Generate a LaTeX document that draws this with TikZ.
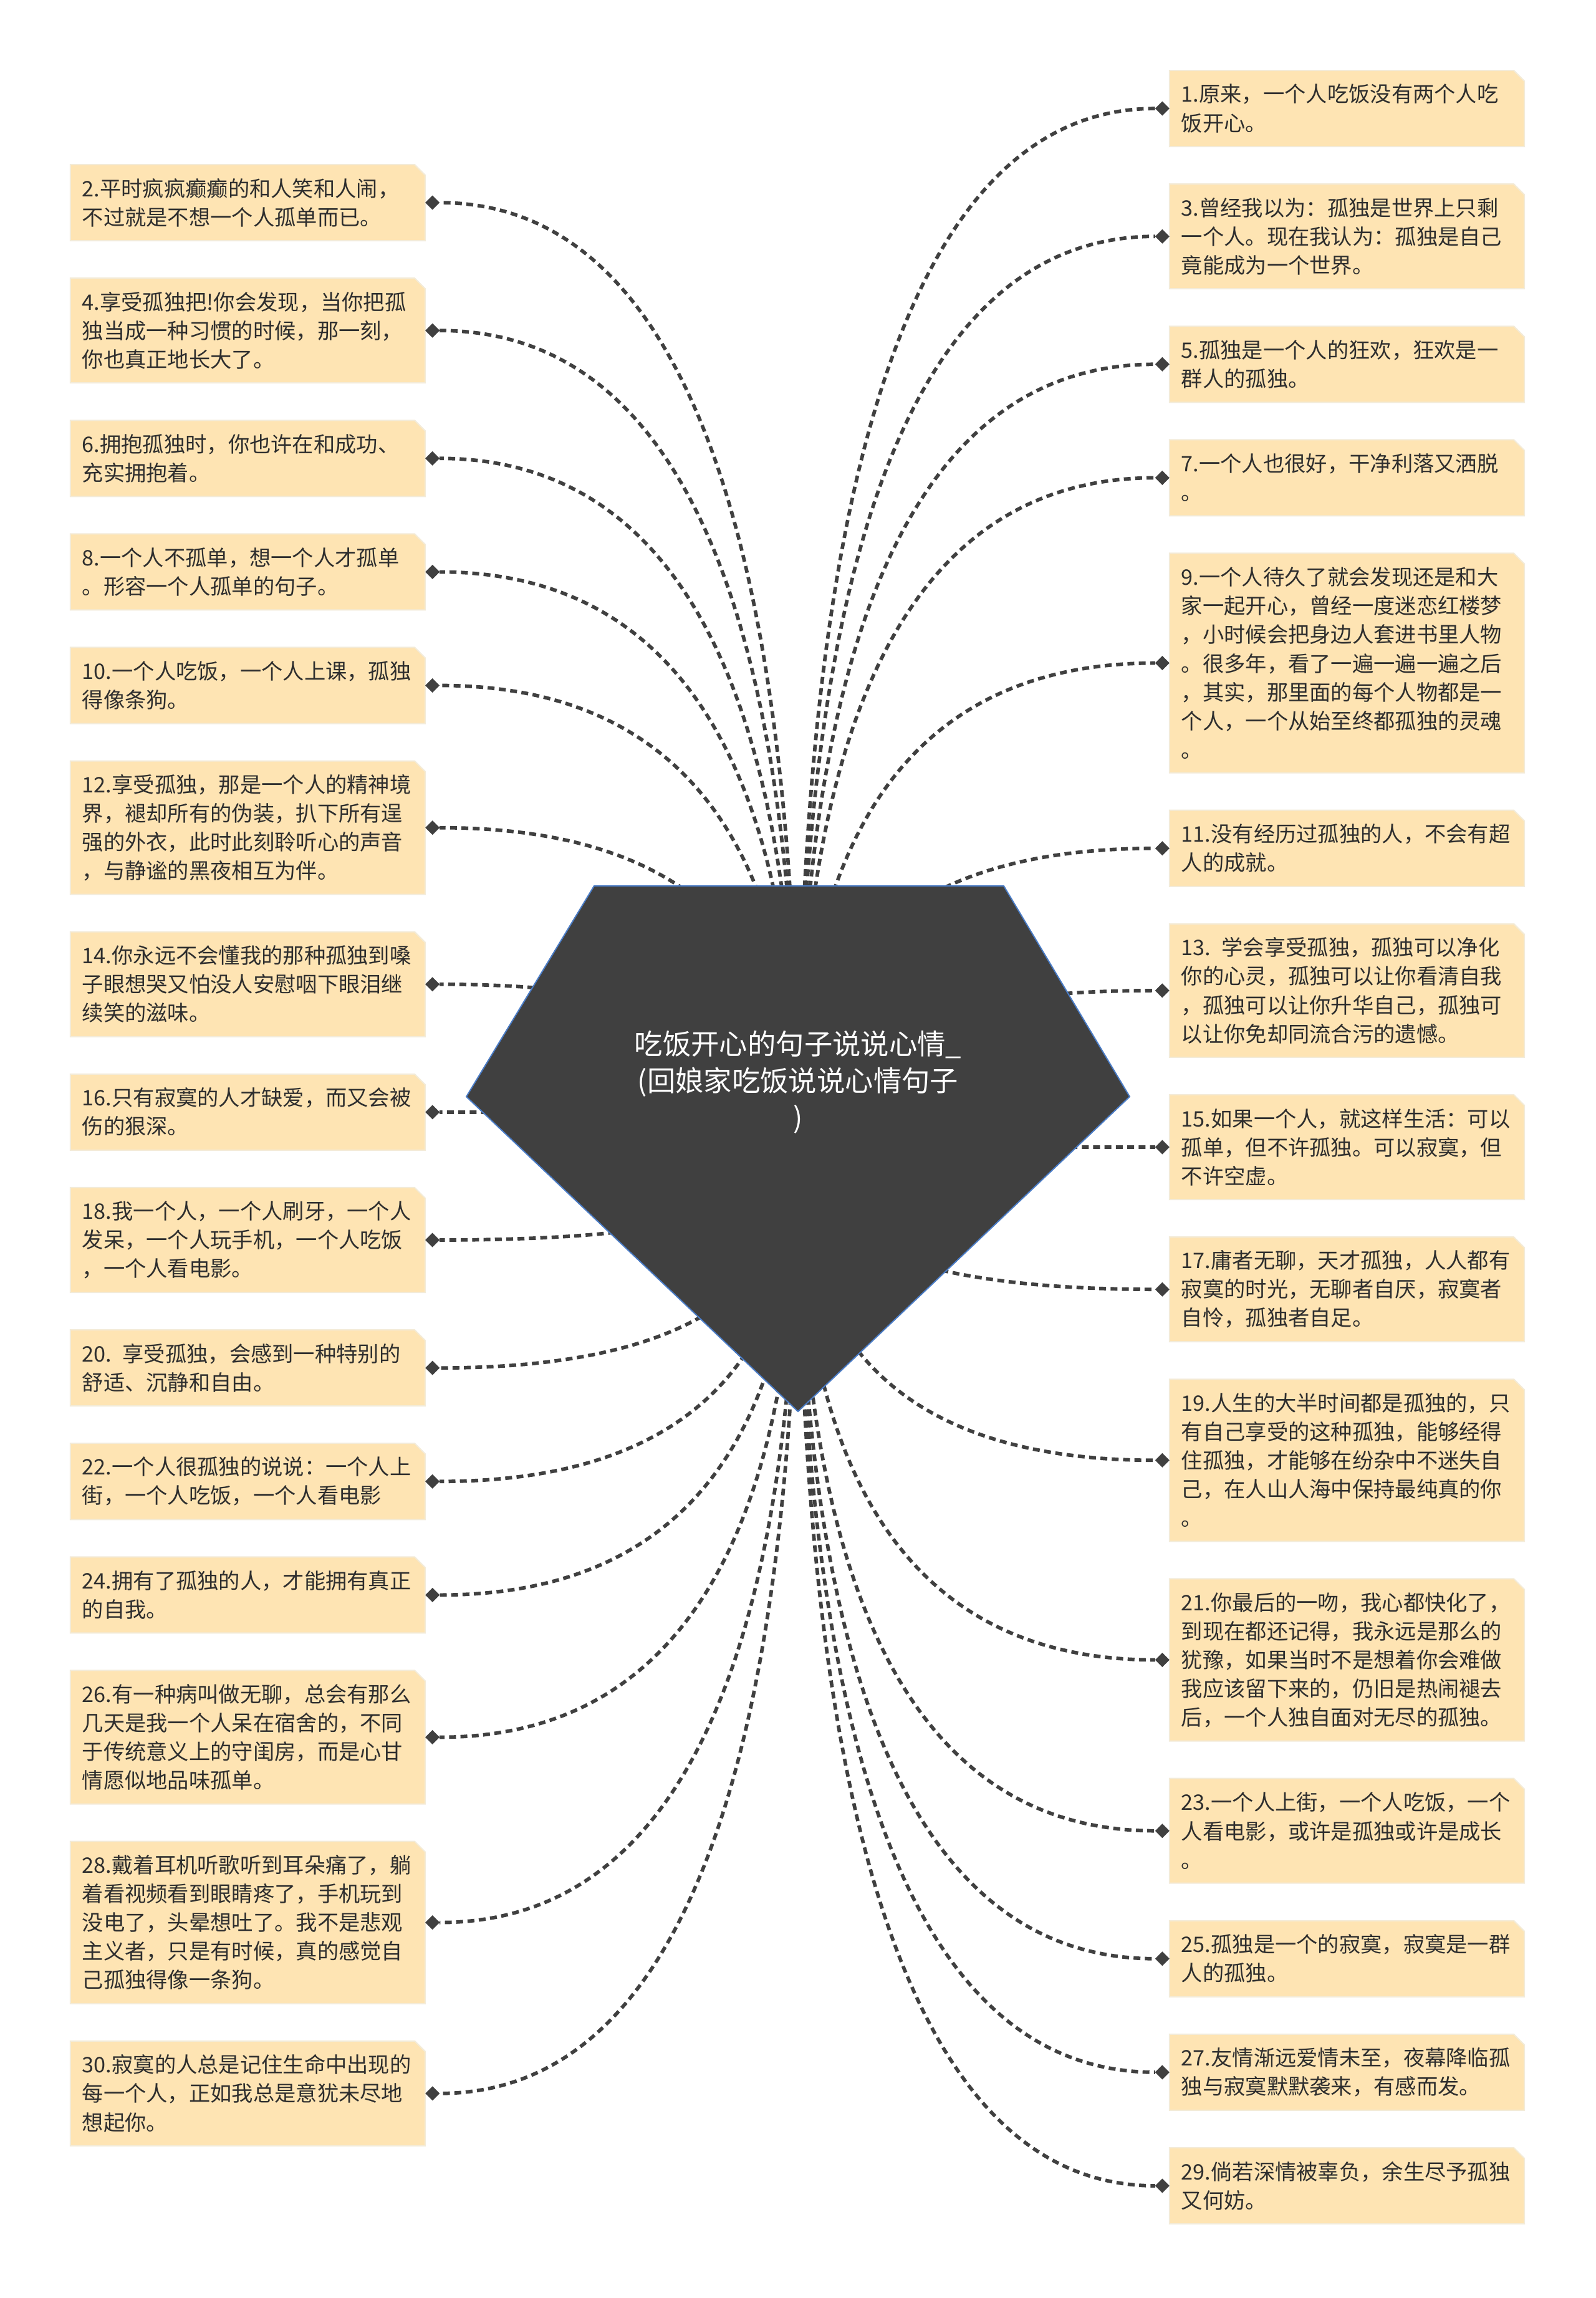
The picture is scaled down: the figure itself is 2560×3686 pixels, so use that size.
\documentclass[tikz,border=0pt]{standalone}
\usepackage{fontspec}
\newfontfamily\cjk{Noto Sans CJK SC}
\usetikzlibrary{positioning,calc,shapes.geometric}

\definecolor{leafbg}{HTML}{FEE4B3}
\definecolor{leafrim}{HTML}{F3EBD8}
\definecolor{ink}{HTML}{2E2E2E}
\definecolor{stone}{HTML}{404040}
\definecolor{rimblue}{HTML}{4A7CC6}

\pgfdeclarelayer{bg}
\pgfsetlayers{bg,main}

\begin{document}
\begin{tikzpicture}[
    x=0.01cm, y=-0.01cm,
    leaf/.style={rectangle, minimum width=5.69cm, text width=5.31cm,
        inner xsep=0.19cm, inner ysep=0.1cm, outer sep=0pt,
        align=left, text=ink, font=\cjk\fontsize{9.75pt}{13.1pt}\selectfont},
    leafback/.style={fill=leafbg, draw=leafrim, line width=0.02cm},
    knob/.style={diamond, fill=stone, inner sep=0pt, outer sep=0pt, minimum size=0.23cm},
    link/.style={draw=stone, line width=0.057cm, dash pattern=on 0.11cm off 0.072cm},
    rootlabel/.style={text=white, align=center, font=\cjk\fontsize{12.9pt}{16.8pt}\selectfont}
]

\useasboundingbox (0,0) rectangle (2560,3686);

% === Root ===
\coordinate (root) at (1280,1842);
\fill[stone, draw=rimblue, line width=0.02cm]
    (953,1421) -- (1610,1421) -- (1812,1759) -- (1280,2264) -- (748,1759) -- cycle;
\node[rootlabel] (topic) at (1280,1736) {吃饭开心的句子说说心情\_\\(回娘家吃饭说说心情句子\\)};

% === Left column (even numbers) ===
\node[leaf, minimum height=1.22cm, anchor=north] (b2) at (397.5,264)
    {2.平时疯疯癫癫的和人笑和人闹，\\不过就是不想一个人孤单而已。};
\node[leaf, minimum height=1.68cm, below=0.6cm of b2] (b4)
    {4.享受孤独把!你会发现，当你把孤\\独当成一种习惯的时候，那一刻，\\你也真正地长大了。};
\node[leaf, minimum height=1.22cm, below=0.6cm of b4] (b6)
    {6.拥抱孤独时，你也许在和成功、\\充实拥抱着。};
\node[leaf, minimum height=1.22cm, below=0.6cm of b6] (b8)
    {8.一个人不孤单，想一个人才孤单\\。形容一个人孤单的句子。};
\node[leaf, minimum height=1.22cm, below=0.6cm of b8] (b10)
    {10.一个人吃饭，一个人上课，孤独\\得像条狗。};
\node[leaf, minimum height=2.14cm, below=0.6cm of b10] (b12)
    {12.享受孤独，那是一个人的精神境\\界，褪却所有的伪装，扒下所有逞\\强的外衣，此时此刻聆听心的声音\\，与静谧的黑夜相互为伴。};
\node[leaf, minimum height=1.68cm, below=0.6cm of b12] (b14)
    {14.你永远不会懂我的那种孤独到嗓\\子眼想哭又怕没人安慰咽下眼泪继\\续笑的滋味。};
\node[leaf, minimum height=1.22cm, below=0.6cm of b14] (b16)
    {16.只有寂寞的人才缺爱，而又会被\\伤的狠深。};
\node[leaf, minimum height=1.68cm, below=0.6cm of b16] (b18)
    {18.我一个人，一个人刷牙，一个人\\发呆，一个人玩手机，一个人吃饭\\，一个人看电影。};
\node[leaf, minimum height=1.22cm, below=0.6cm of b18] (b20)
    {20. 享受孤独，会感到一种特别的\\舒适、沉静和自由。};
\node[leaf, minimum height=1.22cm, below=0.6cm of b20] (b22)
    {22.一个人很孤独的说说：一个人上\\街，一个人吃饭，一个人看电影};
\node[leaf, minimum height=1.22cm, below=0.6cm of b22] (b24)
    {24.拥有了孤独的人，才能拥有真正\\的自我。};
\node[leaf, minimum height=2.14cm, below=0.6cm of b24] (b26)
    {26.有一种病叫做无聊，总会有那么\\几天是我一个人呆在宿舍的，不同\\于传统意义上的守闺房，而是心甘\\情愿似地品味孤单。};
\node[leaf, minimum height=2.60cm, below=0.6cm of b26] (b28)
    {28.戴着耳机听歌听到耳朵痛了，躺\\着看视频看到眼睛疼了，手机玩到\\没电了，头晕想吐了。我不是悲观\\主义者，只是有时候，真的感觉自\\己孤独得像一条狗。};
\node[leaf, minimum height=1.68cm, below=0.6cm of b28] (b30)
    {30.寂寞的人总是记住生命中出现的\\每一个人，正如我总是意犹未尽地\\想起你。};

% === Right column (odd numbers) ===
\node[leaf, minimum height=1.22cm, anchor=north] (b1) at (2160.5,113)
    {1.原来，一个人吃饭没有两个人吃\\饭开心。};
\node[leaf, minimum height=1.68cm, below=0.6cm of b1] (b3)
    {3.曾经我以为：孤独是世界上只剩\\一个人。现在我认为：孤独是自己\\竟能成为一个世界。};
\node[leaf, minimum height=1.22cm, below=0.6cm of b3] (b5)
    {5.孤独是一个人的狂欢，狂欢是一\\群人的孤独。};
\node[leaf, minimum height=1.22cm, below=0.6cm of b5] (b7)
    {7.一个人也很好，干净利落又洒脱\\。};
\node[leaf, minimum height=3.52cm, below=0.6cm of b7] (b9)
    {9.一个人待久了就会发现还是和大\\家一起开心，曾经一度迷恋红楼梦\\，小时候会把身边人套进书里人物\\。很多年，看了一遍一遍一遍之后\\，其实，那里面的每个人物都是一\\个人，一个从始至终都孤独的灵魂\\。};
\node[leaf, minimum height=1.22cm, below=0.6cm of b9] (b11)
    {11.没有经历过孤独的人，不会有超\\人的成就。};
\node[leaf, minimum height=2.14cm, below=0.6cm of b11] (b13)
    {13. 学会享受孤独，孤独可以净化\\你的心灵，孤独可以让你看清自我\\，孤独可以让你升华自己，孤独可\\以让你免却同流合污的遗憾。};
\node[leaf, minimum height=1.68cm, below=0.6cm of b13] (b15)
    {15.如果一个人，就这样生活：可以\\孤单，但不许孤独。可以寂寞，但\\不许空虚。};
\node[leaf, minimum height=1.68cm, below=0.6cm of b15] (b17)
    {17.庸者无聊，天才孤独，人人都有\\寂寞的时光，无聊者自厌，寂寞者\\自怜，孤独者自足。};
\node[leaf, minimum height=2.60cm, below=0.6cm of b17] (b19)
    {19.人生的大半时间都是孤独的，只\\有自己享受的这种孤独，能够经得\\住孤独，才能够在纷杂中不迷失自\\己，在人山人海中保持最纯真的你\\。};
\node[leaf, minimum height=2.60cm, below=0.6cm of b19] (b21)
    {21.你最后的一吻，我心都快化了，\\到现在都还记得，我永远是那么的\\犹豫，如果当时不是想着你会难做\\我应该留下来的，仍旧是热闹褪去\\后，一个人独自面对无尽的孤独。};
\node[leaf, minimum height=1.68cm, below=0.6cm of b21] (b23)
    {23.一个人上街，一个人吃饭，一个\\人看电影，或许是孤独或许是成长\\。};
\node[leaf, minimum height=1.22cm, below=0.6cm of b23] (b25)
    {25.孤独是一个的寂寞，寂寞是一群\\人的孤独。};
\node[leaf, minimum height=1.22cm, below=0.6cm of b25] (b27)
    {27.友情渐远爱情未至，夜幕降临孤\\独与寂寞默默袭来，有感而发。};
\node[leaf, minimum height=1.22cm, below=0.6cm of b27] (b29)
    {29.倘若深情被辜负，余生尽予孤独\\又何妨。};

% === Knobs at the box ends ===
\foreach \i in {2,4,...,30} \node[knob, right=0pt of b\i] (k\i) {};
\foreach \i in {1,3,...,29} \node[knob, left=0pt of b\i] (k\i) {};

% === Box backs and dashed links (quadratic bends from the root) ===
\begin{pgfonlayer}{bg}
\fill[white] (0,0) rectangle (2560,3686);
\foreach \i in {1,...,30}
    \filldraw[leafback] (b\i.north west) -- ([xshift=-0.17cm]b\i.north east)
        -- ([yshift=-0.17cm]b\i.north east) -- (b\i.south east) -- (b\i.south west) -- cycle;
\foreach \i in {1,...,30}
    \draw[link] (root) .. controls ($(root)!2/3!(root |- k\i)$)
        and ($(k\i)!2/3!(root |- k\i)$) .. (k\i);
\end{pgfonlayer}

\end{tikzpicture}
\end{document}
